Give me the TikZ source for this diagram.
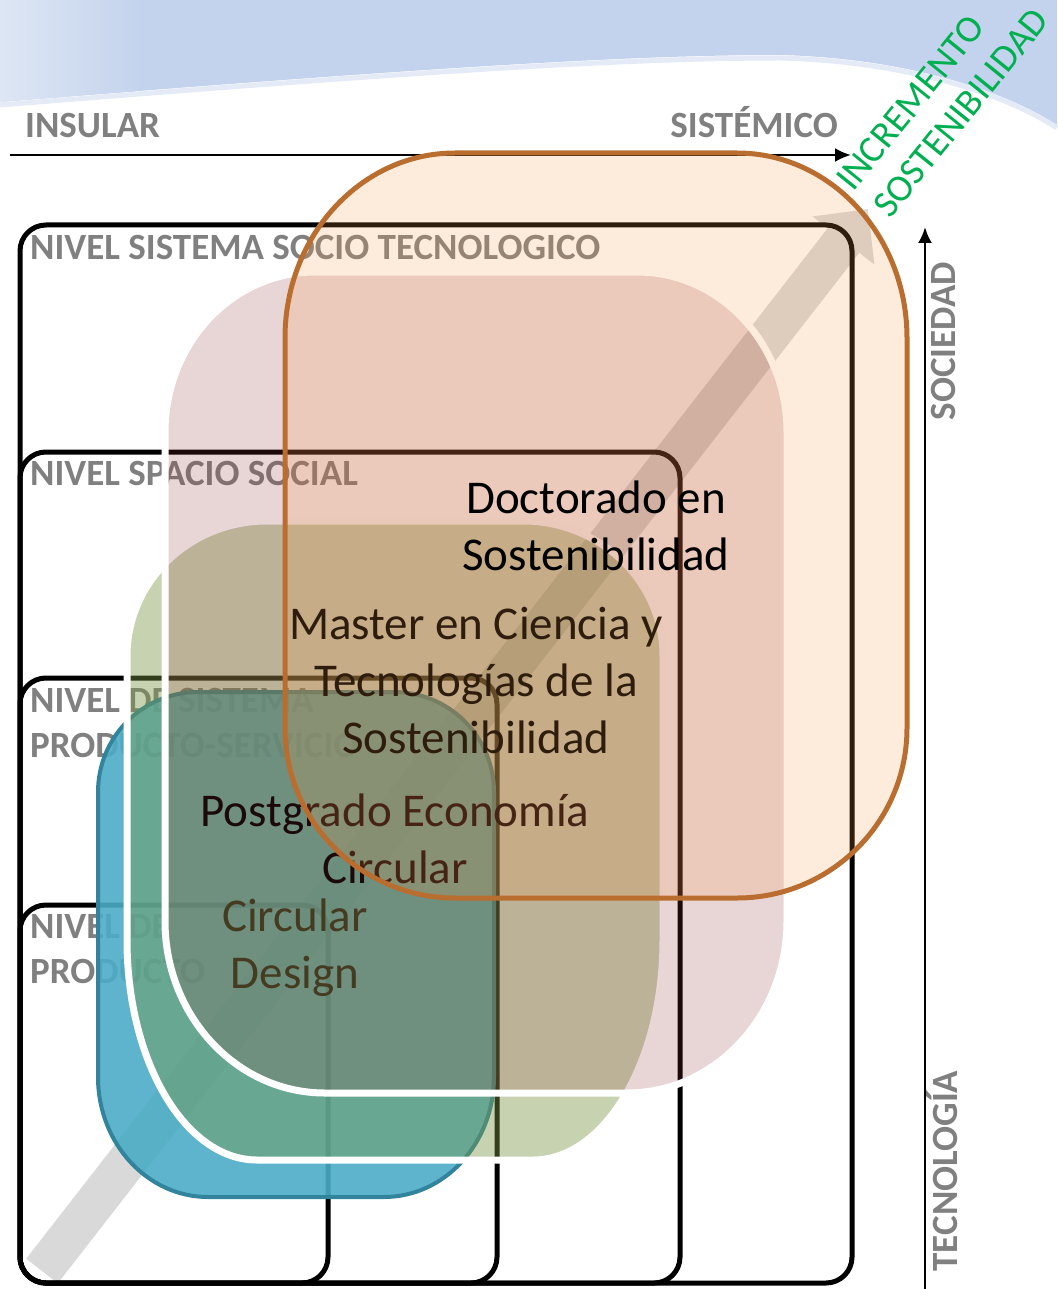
\documentclass[tikz,border=0pt]{standalone}
\usepackage{fontspec}
\setmainfont{Carlito}
\usetikzlibrary{arrows.meta}
\definecolor{bandblue}{RGB}{196,211,237}
\definecolor{bandlight}{RGB}{221,230,244}
\definecolor{levelgray}{RGB}{128,128,128}
\definecolor{arrowgray}{RGB}{217,217,217}
\definecolor{bluefill}{RGB}{75,172,198}
\definecolor{blueedge}{RGB}{49,132,155}
\definecolor{greenfill}{RGB}{121,150,67}
\definecolor{pinkfill}{RGB}{140,50,52}
\definecolor{orangefill}{RGB}{247,150,70}
\definecolor{orangeedge}{RGB}{185,110,48}
\definecolor{growgreen}{RGB}{0,176,80}
% rounded blob: x1, y1, x2, y2, top rx, top ry, bottom rx, bottom ry
\newcommand{\blobpath}[8]{(#1,#2+#6) arc[start angle=180,end angle=270,x radius=#5,y radius=#6]
  -- (#3-#5,#2) arc[start angle=270,end angle=360,x radius=#5,y radius=#6]
  -- (#3,#4-#8) arc[start angle=0,end angle=90,x radius=#7,y radius=#8]
  -- (#1+#7,#4) arc[start angle=90,end angle=180,x radius=#7,y radius=#8] -- cycle}
\tikzset{%
    level box/.style={draw=black,line width=5pt,rounded corners=26pt},
    level label/.style={anchor=base west,inner sep=0pt,align=left,text=levelgray,font=\fontsize{37}{45}\selectfont\bfseries},
    axis/.style={line width=2.5pt,-{Latex[length=16pt,width=14pt]}},
    axis label/.style={inner sep=0pt,text=levelgray,font=\fontsize{37}{45}\selectfont\bfseries},
    course/.style={anchor=base,inner sep=0pt,align=center,font=\fontsize{47}{57}\selectfont},
    grow label/.style={anchor=base west,inner sep=0pt,rotate=51,text=growgreen,font=\fontsize{38}{46}\selectfont},
}
\begin{document}
\begin{tikzpicture}[x=1pt,y=-1pt]
      \useasboundingbox (0,0) rectangle (1057,1289);
      % sky band
      \begin{scope}
        \clip (0,0) -- (1057,0) -- (1057,125) .. controls (1000,88) and (900,58) .. (780,55)
          .. controls (620,55) and (400,70) .. (0,102) -- cycle;
        \fill[bandblue] (0,0) rectangle (1057,130);
        \shade[left color=bandlight,right color=bandblue] (0,0) rectangle (140,130);
      \end{scope}
      \draw[line width=5pt,white!55!bandblue] (1057,128) .. controls (1000,91) and (900,61) .. (780,58)
          .. controls (620,58) and (400,73) .. (0,105);

      % growth arrow
      \coordinate (tail) at (42,1271);
      \coordinate (tip) at (868,209);
      \draw[line width=40pt,arrowgray,-{Triangle[length=40pt,width=76pt]}] (tail) -- (tip);

      % levels
      \draw[level box] (20,225) rectangle (852,1283);
      \draw[level box] (20,452) rectangle (680,1283);
      \draw[level box] (20,678) rectangle (497,1283);
      \draw[level box] (20,905) rectangle (328,1283);
      \node[level label] (socio) at (30,259) {NIVEL SISTEMA SOCIO TECNOLOGICO};
      \node[level label] (social) at (30,485) {NIVEL SPACIO SOCIAL};
      \node[level label] (servicio) at (30,757) {NIVEL DE SISTEMA\\PRODUCTO-SERVICIO};
      \node[level label] (producto) at (30,983) {NIVEL DE\\PRODUCTO};

      % axes
      \coordinate (insul) at (10,155);
      \coordinate (sist) at (851,155);
      \draw[axis] (insul) -- (sist);
      \node[axis label,anchor=base west] (insular) at (25,138) {INSULAR};
      \node[axis label,anchor=base east] (sistemico) at (838,138) {SISTÉMICO};
      \coordinate (tecno) at (925,1289);
      \coordinate (socie) at (925,227);
      \draw[axis] (tecno) -- (socie);
      \node[axis label,rotate=90,anchor=base] (sociedad) at (955,341) {SOCIEDAD};
      \node[axis label,rotate=90,anchor=base] (tecnologia) at (957,1171) {TECNOLOGÍA};

      % programmes, each with its text
      \draw[blueedge,line width=4pt,fill=bluefill,fill opacity=0.9] \blobpath{98}{692}{494}{1197}{100}{100}{110}{120};
      \node[course] (design) at (295,988) {Circular\\Design};
      \draw[white,line width=7pt,fill=greenfill,fill opacity=0.42] \blobpath{127}{521}{663}{1160}{140}{135}{130}{220};
      \node[course] (postgrado) at (395,883) {Postgrado Economía\\Circular};
      \draw[white,line width=7pt,fill=pinkfill,fill opacity=0.2] \blobpath{165}{272}{787}{1093}{150}{160}{160}{172};
      \node[course] (master) at (476,753) {Master en Ciencia y\\Tecnologías de la\\Sostenibilidad};
      \draw[orangeedge,line width=5pt,fill=orangefill,fill opacity=0.19] \blobpath{285}{153}{907}{898}{170}{185}{170}{170};
      \node[course] (doctorado) at (596,570) {Doctorado en\\Sostenibilidad};

      \node[grow label] (incremento) at (853,193) {INCREMENTO};
      \node[grow label] (sostenibilidad) at (890,220) {SOSTENIBILIDAD};
\end{tikzpicture}
\end{document}
